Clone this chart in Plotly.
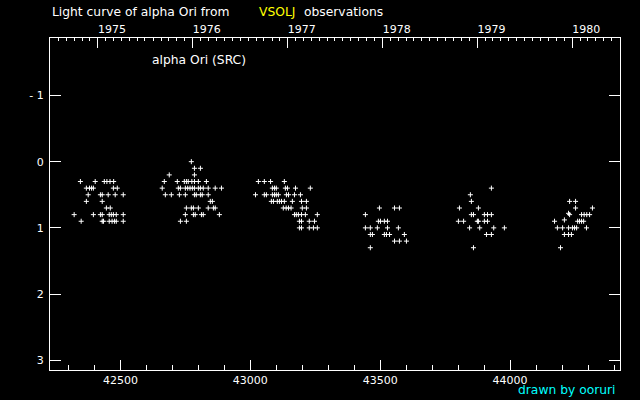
import pandas as pd
import plotly.graph_objects as go

# ---- data: Julian Date - 2400000 and visual magnitude ----
jd_1975 = [42346, 42403, 42438, 42448, 42460, 42474,
           42369, 42381, 42389, 42396, 42473, 42488,
           42376, 42423, 42430, 42453, 42480, 42511,
           42369, 42430,
           42446, 42461,
           42322, 42396, 42423, 42430, 42457, 42465, 42473, 42484, 42511,
           42349, 42430, 42435, 42457, 42468, 42477, 42484, 42511]
mag_1975 = [0.3] * 6 + [0.4] * 6 + [0.5] * 6 + [0.6] * 2 + [0.7] * 2 + [0.8] * 9 + [0.9] * 8

jd_1976 = [42773,
           42785, 42808,
           42688, 42785,
           42669, 42719, 42746, 42754, 42761, 42775, 42785, 42800, 42831,
           42661, 42723, 42731, 42750, 42759, 42768, 42777, 42785, 42800, 42808, 42819, 42838, 42865, 42889,
           42673, 42696, 42727, 42750, 42785, 42792, 42808, 42815, 42838,
           42846, 42854,
           42754, 42773, 42781, 42800, 42838, 42858, 42865,
           42750, 42781, 42788, 42812, 42819, 42881,
           42731, 42754]
mag_1976 = [0.0] + [0.1] * 2 + [0.2] * 2 + [0.3] * 9 + [0.4] * 14 + [0.5] * 9 + [0.6] * 2 + [0.7] * 7 + [0.8] * 6 + [0.9] * 2

jd_1977 = [43031, 43054, 43078, 43131,
           43085, 43093, 43100, 43135, 43143, 43174, 43231,
           43020, 43054, 43062, 43085, 43093, 43100, 43108, 43139, 43147, 43170, 43193,
           43081, 43089, 43104, 43112, 43120, 43131, 43162, 43197, 43216,
           43127, 43138, 43147, 43157, 43200, 43216,
           43170, 43177, 43185, 43197, 43212, 43258,
           43189, 43197, 43227, 43247,
           43189, 43197, 43227, 43243, 43258]
mag_1977 = [0.3] * 4 + [0.4] * 7 + [0.5] * 11 + [0.6] * 9 + [0.7] * 6 + [0.8] * 6 + [0.9] * 4 + [1.0] * 5

jd_1978 = [43497, 43555, 43574,
           43443,
           43493, 43501, 43516, 43528,
           43443, 43462, 43489, 43528, 43570,
           43462, 43470, 43516, 43524, 43536, 43593,
           43555, 43574, 43601,
           43462]
mag_1978 = [0.7] * 3 + [0.8] + [0.9] * 4 + [1.0] * 5 + [1.1] * 6 + [1.2] * 3 + [1.3]

jd_1979 = [43928,
           43847,
           43851,
           43805, 43878,
           43851, 43859, 43901, 43913, 43928,
           43801, 43821, 43874, 43878, 43901, 43913,
           43844, 43883, 43937, 43978,
           43909, 43928,
           43859]
mag_1979 = [0.4, 0.5, 0.6] + [0.7] * 2 + [0.8] * 5 + [0.9] * 6 + [1.0] * 4 + [1.1] * 2 + [1.3]

jd_1980 = [44229, 44252,
           44252, 44317,
           44225,
           44229, 44275, 44285, 44295, 44306,
           44209,
           44171, 44260, 44267, 44275, 44283,
           44182, 44202, 44225, 44240, 44248, 44256, 44294,
           44209, 44225, 44236,
           44194]
mag_1980 = [0.6] * 2 + [0.7] * 2 + [0.78] + [0.8] * 5 + [0.88] + [0.9] * 5 + [1.0] * 7 + [1.1] * 3 + [1.3]

jd = jd_1975 + jd_1976 + jd_1977 + jd_1978 + jd_1979 + jd_1980
mag = mag_1975 + mag_1976 + mag_1977 + mag_1978 + mag_1979 + mag_1980

# ---- axis labels ----
jd_ticks = [42500, 43000, 43500, 44000]
mag_ticks = [-1, 0, 1, 2, 3]
years = [1975, 1976, 1977, 1978, 1979, 1980]

year_jd = [pd.Timestamp(f"{y}-01-01").to_julian_date() - 2400000 for y in years]
month_jd = [t.to_julian_date() - 2400000
            for t in pd.date_range("1974-06-01", "1981-03-01", freq="MS")]

font = "DejaVu Sans"
xrange = [42229, 44423]
txt = 12.3

fig = go.Figure()
fig.add_trace(go.Scatter(
    x=jd, y=mag, mode="markers",
    marker=dict(symbol="cross-thin", size=3.6, color="white",
                line=dict(color="white", width=1)),
    showlegend=False, hoverinfo="skip"))
fig.add_trace(go.Scatter(x=[None], y=[None], xaxis="x2", showlegend=False,
                         hoverinfo="skip"))

fig.update_layout(
    width=640, height=400,
    margin=dict(l=50, r=20, t=38, b=30),
    paper_bgcolor="black", plot_bgcolor="black",
    font=dict(family=font, size=11, color="white"),
    xaxis=dict(range=xrange, showgrid=False, zeroline=False,
               showline=True, linecolor="white", linewidth=1,
               tickmode="array", tickvals=jd_ticks,
               ticktext=[str(v) for v in jd_ticks],
               ticks="inside", ticklen=10, tickcolor="white", tickwidth=1,
               minor=dict(dtick=100, tick0=42200, ticks="inside", ticklen=5,
                          tickcolor="white", tickwidth=1, showgrid=False),
               tickfont=dict(size=11, color="white")),
    xaxis2=dict(range=xrange, overlaying="x", side="top", anchor="y",
                showgrid=False, zeroline=False,
                showline=True, linecolor="white", linewidth=1,
                tickmode="array", tickvals=year_jd,
                ticktext=[str(y) for y in years],
                ticks="inside", ticklen=10, tickcolor="white", tickwidth=1,
                ticklabelshift=14,
                minor=dict(tickvals=month_jd, ticks="inside", ticklen=3,
                           tickcolor="white", tickwidth=1, showgrid=False),
                tickfont=dict(size=11, color="white")),
    yaxis=dict(range=[3.147, -1.868], showgrid=False, zeroline=False,
               showline=True, mirror="ticks", linecolor="white", linewidth=1,
               tickmode="array", tickvals=mag_ticks,
               ticktext=["- " + str(abs(v)) if v < 0 else str(v) for v in mag_ticks],
               ticks="inside", ticklen=11, tickcolor="white", tickwidth=1,
               ticklabelstandoff=3,
               tickfont=dict(size=11, color="white")),
    annotations=[
        dict(text="Light curve of alpha Ori from", xref="paper", yref="paper",
             x=0.0, y=1.078, xanchor="left", yanchor="middle", showarrow=False,
             font=dict(color="white", size=txt)),
        dict(text="VSOLJ", xref="paper", yref="paper",
             x=0.363, y=1.078, xanchor="left", yanchor="middle", showarrow=False,
             font=dict(color="yellow", size=txt)),
        dict(text="observations", xref="paper", yref="paper",
             x=0.442, y=1.078, xanchor="left", yanchor="middle", showarrow=False,
             font=dict(color="white", size=txt)),
        dict(text="alpha Ori (SRC)", xref="paper", yref="paper",
             x=0.1754, y=0.934, xanchor="left", yanchor="middle", showarrow=False,
             font=dict(color="white", size=txt)),
        dict(text="drawn by ooruri", xref="paper", yref="paper",
             x=0.9965, y=-0.06, xanchor="right", yanchor="middle", showarrow=False,
             font=dict(color="cyan", size=txt)),
    ],
)

fig.write_html(
    "out.html",
    config={"displayModeBar": False},
    post_script="document.body.style.margin='0px';"
                "document.body.style.background='black';",
)
